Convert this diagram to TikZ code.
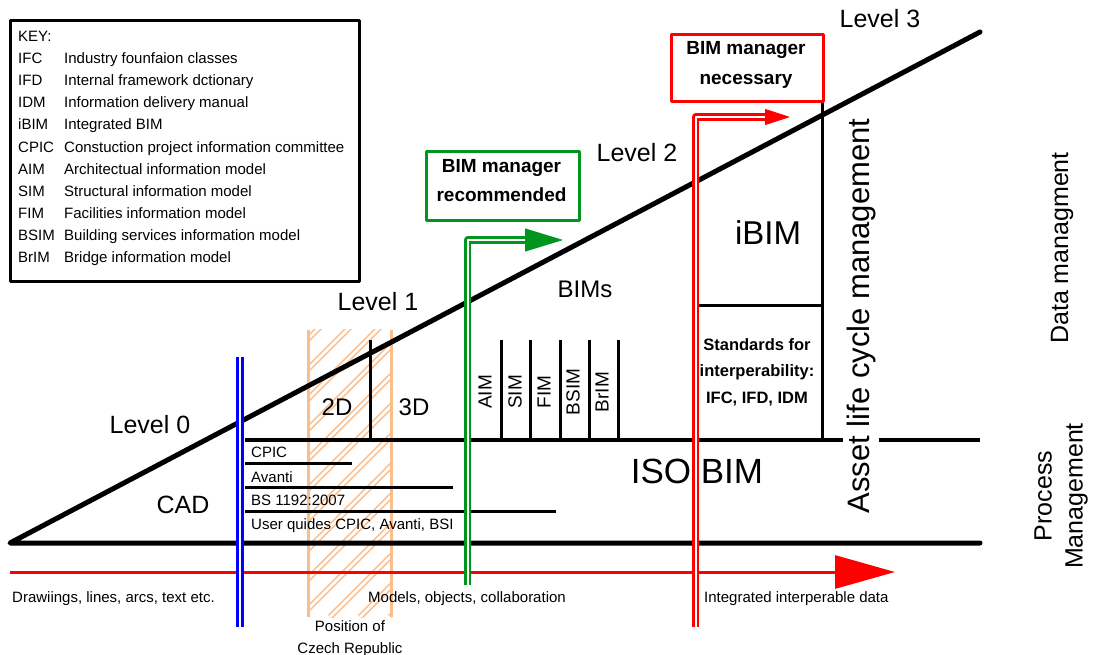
\documentclass[tikz,border=0pt]{standalone}
\usepackage{fontspec}
\setmainfont{Liberation Sans}
\usetikzlibrary{arrows.meta}

\definecolor{bandorange}{RGB}{250,190,140}
\definecolor{bimgreen}{RGB}{0,150,30}
\newcommand{\pxfont}[1]{\fontsize{#1}{#1}\selectfont}

\begin{document}
\begin{tikzpicture}[x=1pt, y=-1pt, line join=round,
    every node/.style={inner sep=0pt},
    key/.style={anchor=base west, font=\pxfont{15}},
    small/.style={anchor=base west, font=\pxfont{15}},
    level/.style={anchor=base, font=\pxfont{25}},
    big/.style={anchor=base, font=\pxfont{24}},
    bimlabel/.style={rotate=90, font=\pxfont{19}},
    boxtext/.style={anchor=base, font=\pxfont{19}\bfseries},
    stdtext/.style={anchor=base, font=\pxfont{16.5}\bfseries},
    heavy/.style={line width=5pt, line cap=round},
    medium/.style={line width=3.5pt},
    light/.style={line width=3pt},
    hatch/.style={draw=bandorange, line width=1.7pt, double=white, double distance=2.5pt},
    rail/.style={line width=2.6pt, double=white, double distance=2pt}]

    \useasboundingbox (0,0) rectangle (1096,655);

    % Key
    \node[draw, line width=3pt, minimum width=349pt, minimum height=261pt, anchor=north west] (keybox) at (9,19) {};
    \node[key] (keytitle) at (18,42) {KEY:};
    \node[key] (kIFC) at (18,64) {IFC};   \node[key] (dIFC) at (64,64) {Industry founfaion classes};
    \node[key] (kIFD) at (18,86) {IFD};   \node[key] (dIFD) at (64,86) {Internal framework dctionary};
    \node[key] (kIDM) at (18,108) {IDM};  \node[key] (dIDM) at (64,108) {Information delivery manual};
    \node[key] (kiBIM) at (18,130) {iBIM}; \node[key] (diBIM) at (64,130) {Integrated BIM};
    \node[key] (kCPIC) at (18,152.5) {CPIC}; \node[key] (dCPIC) at (64,152.5) {Constuction project information committee};
    \node[key] (kAIM) at (18,174.5) {AIM};  \node[key] (dAIM) at (64,174.5) {Architectual information model};
    \node[key] (kSIM) at (18,196.5) {SIM};  \node[key] (dSIM) at (64,196.5) {Structural information model};
    \node[key] (kFIM) at (18,219) {FIM};    \node[key] (dFIM) at (64,219) {Facilities information model};
    \node[key] (kBSIM) at (18,241) {BSIM};  \node[key] (dBSIM) at (64,241) {Building services information model};
    \node[key] (kBrIM) at (18,263) {BrIM};  \node[key] (dBrIM) at (64,263) {Bridge information model};

    % Position of Czech Republic (hatched band)
    \begin{scope}
        \clip (307,330) rectangle (392,617);
        \foreach \k in {-300,-270,...,390} \draw[hatch] (\k,617) -- ++(320,-320);
    \end{scope}
    \draw[bandorange, line width=3pt] (308,330) -- (308,617);
    \draw[bandorange, line width=3pt] (391,330) -- (391,617);

    % Triangle
    \coordinate (origin) at (10,543);
    \coordinate (baseEnd) at (980,543);
    \coordinate (topEnd) at (980,32);
    \draw[heavy] (topEnd) -- (origin) -- (baseEnd);

    % ISO BIM line and dividers
    \coordinate (isoL) at (245,440);
    \coordinate (isoR) at (980,440);
    \draw[medium] (isoL) -- (isoR);
    \draw[light] (370,340) -- (370,440);
    \draw[light] (501,340) -- (501,440);
    \draw[light] (530,340) -- (530,440);
    \draw[light] (560,340) -- (560,440);
    \draw[light] (589,340) -- (589,440);
    \draw[light] (618,340) -- (618,440);
    \draw[light] (822,100) -- (822,440);
    \draw[light] (697,306) -- (822,306);

    % Guides
    \draw[light] (245,463) -- (352,463);
    \draw[light] (245,487) -- (453,487);
    \draw[light] (245,511) -- (556,511);
    \node[small] (cpic) at (251,457) {CPIC};
    \node[small] (avanti) at (251,482) {Avanti};
    \node[small] (bs) at (251,505) {BS 1192:2007};
    \node[small] (guides) at (251,529) {User quides CPIC, Avanti, BSI};

    % Labels
    \node[level] (lev0) at (150,433) {Level 0};
    \node[level] (lev1) at (378,311) {Level 1};
    \node[level] (lev2) at (637,162) {Level 2};
    \node[level] (lev3) at (880,28) {Level 3};
    \node[anchor=base, font=\pxfont{25}] (cad) at (183,513) {CAD};
    \node[big] (twoD) at (337,415) {2D};
    \node[big] (threeD) at (414,415) {3D};
    \node[big] (bims) at (585,298) {BIMs};
    \node[bimlabel] (aim) at (485,392) {AIM};
    \node[bimlabel] (sim) at (515,392) {SIM};
    \node[bimlabel] (fim) at (544,392) {FIM};
    \node[bimlabel] (bsim) at (573,392) {BSIM};
    \node[bimlabel] (brim) at (602,392) {BrIM};
    \node[anchor=base, font=\pxfont{35}] (isobim) at (697,483) {ISO BIM};
    \node[anchor=base, font=\pxfont{33}] (ibim) at (768,245) {iBIM};
    \node[stdtext] (std1) at (757,350) {Standards for};
    \node[stdtext] (std2) at (757,377) {interperability:};
    \node[stdtext] (std3) at (757,403) {IFC, IFD, IDM};
    \node[rotate=90, fill=white, inner xsep=0pt, inner ysep=4pt, font=\pxfont{31}] (asset) at (861,316) {Asset life cycle management};
    \node[rotate=90, font=\pxfont{25}] (datam) at (1062,248) {Data managment};
    \node[rotate=90, align=center, font=\fontsize{25}{31}\selectfont] (procm) at (1061,496) {Process\\Management};

    % Bottom texts
    \node[small] (drawings) at (12,602) {Drawiings, lines, arcs, text etc.};
    \node[small] (models) at (368,602) {Models, objects, collaboration};
    \node[small] (integrated) at (704,602) {Integrated interperable data};
    \node[anchor=base, font=\pxfont{15}] (pos1) at (350,631) {Position of};
    \node[anchor=base, font=\pxfont{15}] (pos2) at (350,653) {Czech Republic};

    % Bottom arrow
    \coordinate (arrL) at (10,572);
    \coordinate (arrR) at (895,572);
    \draw[red, line width=3pt, -{Triangle[length=60pt, width=33pt]}] (arrL) -- (arrR);

    % Blue rail
    \coordinate (blueTop) at (240,357);
    \coordinate (blueBot) at (240,627);
    \draw[rail, blue, line width=2.8pt, double distance=2pt] (blueBot) -- (blueTop);

    % Green rail and box
    \coordinate (greenBot) at (467.5,585);
    \coordinate (greenHead) at (530,240);
    \coordinate (greenTip) at (563,240);
    \draw[rail, bimgreen] (greenBot) |- (greenHead);
    \draw[bimgreen, line width=1pt, -{Triangle[length=38pt, width=23pt]}] (greenHead) -- (greenTip);
    \node[draw=bimgreen, line width=3pt, minimum width=153pt, minimum height=69pt, anchor=north west] (greenbox) at (425,150) {};
    \node[boxtext] (rec1) at (501.5,173) {BIM manager};
    \node[boxtext] (rec2) at (501.5,202) {recommended};

    % Red rail and box
    \coordinate (redBot) at (695.5,627);
    \coordinate (redHead) at (770,117);
    \coordinate (redTip) at (790,117);
    \draw[rail, red] (redBot) |- (redHead);
    \draw[red, line width=1pt, -{Triangle[length=25pt, width=16pt]}] (redHead) -- (redTip);
    \node[draw=red, line width=3pt, minimum width=152pt, minimum height=67pt, anchor=north west] (redbox) at (670,33) {};
    \node[boxtext] (nec1) at (746,55) {BIM manager};
    \node[boxtext] (nec2) at (746,85) {necessary};

\end{tikzpicture}
\end{document}
